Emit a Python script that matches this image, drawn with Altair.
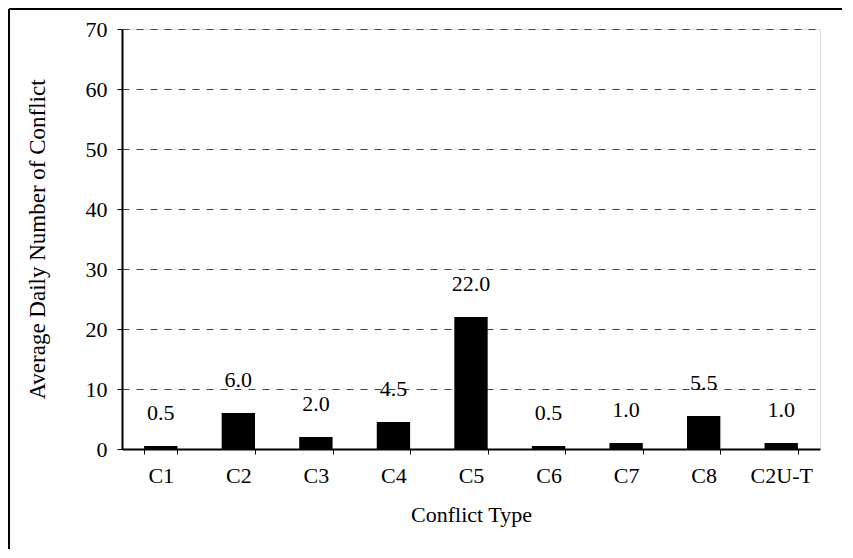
import altair as alt
import pandas as pd

categories = ["C1", "C2", "C3", "C4", "C5", "C6", "C7", "C8", "C2U-T"]
values = [0.5, 6.0, 2.0, 4.5, 22.0, 0.5, 1.0, 5.5, 1.0]

df = pd.DataFrame({"type": categories, "value": values})

FONT = "Liberation Serif"

x = alt.X(
    "type:N",
    sort=categories,
    title="Conflict Type",
    scale=alt.Scale(paddingInner=0.57, paddingOuter=0.285),
    axis=alt.Axis(
        labelAngle=0,
        labelFontSize=22,
        labelFont=FONT,
        labelColor="black",
        labelPadding=11,
        titleFontSize=22,
        titleFont=FONT,
        titleFontWeight="normal",
        titleColor="black",
        titlePadding=18,
        tickBand="extent",
        tickSize=5,
        tickColor="black",
        domainColor="black",
        domainWidth=2,
        grid=False,
    ),
)

y = alt.Y(
    "value:Q",
    title="Average Daily Number of Conflict",
    scale=alt.Scale(domain=[0, 70], nice=False),
    axis=alt.Axis(
        values=[0, 10, 20, 30, 40, 50, 60, 70],
        labelFontSize=22,
        labelFont=FONT,
        labelColor="black",
        labelPadding=10,
        titleFontSize=23,
        titleFont=FONT,
        titleFontWeight="normal",
        titleColor="black",
        titlePadding=36,
        tickSize=5,
        tickColor="black",
        domainColor="black",
        domainWidth=2,
        grid=True,
        gridColor="#444444",
        gridDash=[7, 7],
        gridWidth=1,
    ),
)

base = alt.Chart(df)

bars = base.mark_bar(color="black").encode(x=x, y=y)

labels = base.mark_text(
    baseline="bottom", dy=-21, fontSize=22, font=FONT, color="black"
).encode(
    x=alt.X("type:N", sort=categories),
    y="value:Q",
    text=alt.Text("value:Q", format=".1f"),
)

frame_top = alt.Chart(df).mark_rule(color="black", strokeWidth=1).encode(
    x=alt.value(-113), x2=alt.value(720), y=alt.value(-20)
)
frame_left = alt.Chart(df).mark_rule(color="black", strokeWidth=1).encode(
    x=alt.value(-113), y=alt.value(-20), y2=alt.value(520)
)

chart = (
    alt.layer(bars, labels, frame_top, frame_left)
    .properties(width=698, height=420, padding=0)
    .configure_view(stroke="black", strokeWidth=2)
    .configure(background="white")
)

chart.save("out.html", embed_options={"renderer": "svg", "actions": False})
